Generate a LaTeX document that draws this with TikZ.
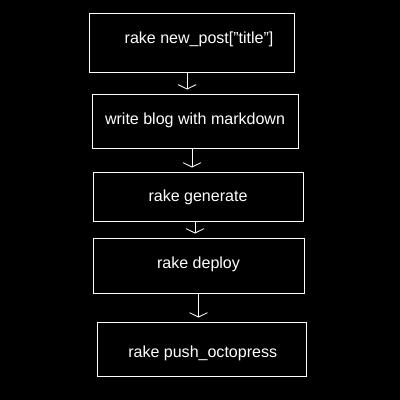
\documentclass[tikz,border=0pt]{standalone}
\usepackage{fontspec}
\setmainfont[Ligatures=NoCommon]{Liberation Sans}
\usetikzlibrary{arrows.meta,calc,positioning}

\begin{document}
\begin{tikzpicture}[x=0.25mm,y=-0.25mm,
  stepbox/.style={draw=white,line width=0.7pt,fill=black,text=white,
    align=center,font=\fontsize{11.4}{13}\selectfont,inner sep=0pt,
    text height=3mm},
  flow/.style={-{Straight Barb[length=1.1mm,width=4.5mm]},white,
    line width=0.6pt,shorten >=1mm}
]
\fill[black] (0,0) rectangle (400,400);
\useasboundingbox (0,0) rectangle (400,400);
\node[stepbox,minimum width=51.25mm,minimum height=14.75mm,text depth=2.75mm] (newpost)
  at (191.5,42.5) {\hspace*{3.8mm}rake new\_post[\symbol{34}title\symbol{34}]};
\node[stepbox,minimum width=51.5mm,minimum height=13.5mm,text depth=1.5mm] (write)
  at (195,121) {write blog with markdown};
\node[stepbox,minimum width=52.5mm,minimum height=12.25mm,text depth=0.75mm] (generate)
  at (198,196.5) {rake generate};
\node[stepbox,minimum width=52.75mm,minimum height=13.75mm,text depth=1.75mm] (deploy)
  at (198.5,265.5) {rake deploy};
\node[stepbox,minimum width=52.25mm,minimum height=13.5mm,text height=5mm,text depth=1mm] (push)
  at (201.5,349) {\hspace*{0.6mm}rake push\_octopress};
\draw[flow] ([xshift=-1.1mm]newpost.south) -- ([xshift=-1.1mm]newpost.south |- write.north);
\draw[flow] ([xshift=-0.75mm]write.south) -- ([xshift=-0.75mm]write.south |- generate.north);
\draw[flow] ([xshift=-0.75mm]generate.south) -- ([xshift=-0.75mm]generate.south |- deploy.north);
\draw[flow] (deploy.south) -- (deploy.south |- push.north);
\end{tikzpicture}
\end{document}
